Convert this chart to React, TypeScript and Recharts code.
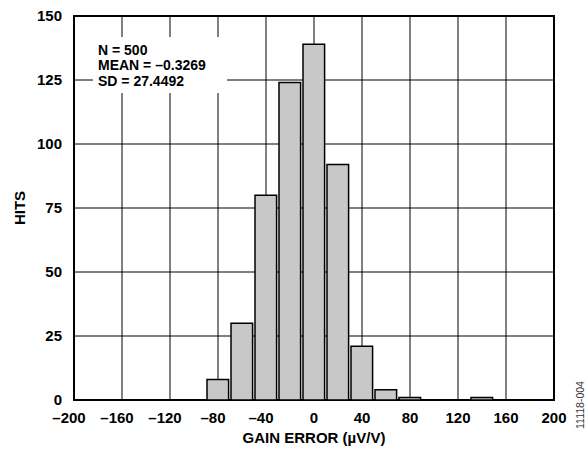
import React from 'react';
import {
  BarChart,
  Bar,
  XAxis,
  YAxis,
  CartesianGrid,
  ReferenceArea,
} from 'recharts';

// histogram bins (center of each 20 µV/V bin) and hit counts
const binCenters = [-80, -60, -40, -20, 0, 20, 40, 60, 80, 140];
const hits = [8, 30, 80, 124, 139, 92, 21, 4, 1, 1];

const xTicks = [-200, -160, -120, -80, -40, 0, 40, 80, 120, 160, 200];
const yTicks = [0, 25, 50, 75, 100, 125, 150];

const statLines = ['N = 500', 'MEAN = \u20130.3269', 'SD = 27.4492'];

const data = binCenters.map((x, i) => ({ x, hits: hits[i] }));

const FONT = '"Liberation Sans", Arial, Helvetica, sans-serif';
const W = 586;
const H = 451;
const MARGIN = { top: 16, right: 32, bottom: 0, left: 0 };
const Y_AXIS_W = 74;
const X_AXIS_H = 51;
const BIN_WIDTH = 20;

const plotW = W - MARGIN.left - MARGIN.right - Y_AXIS_W;
const barSize = (plotW * BIN_WIDTH) / (xTicks[xTicks.length - 1] - xTicks[0]);

const fmt = (v: number) => (v < 0 ? `\u2013${-v}` : `${v}`);

const XTick = (props: any) => {
  const { x, y, payload } = props;
  const v = payload.value as number;
  return (
    <text
      x={x + (v < 0 ? -5 : 0)}
      y={y}
      dy="0.71em"
      textAnchor="middle"
      fill="#000"
      fontSize={15}
      fontWeight="bold"
      fontFamily={FONT}
    >
      {fmt(v)}
    </text>
  );
};

const HitsLabel = (props: any) => {
  const vb = props.viewBox || { x: 0, y: 16, width: 74, height: 384 };
  const cx = vb.x + 19;
  const cy = vb.y + vb.height / 2;
  return (
    <text
      x={cx}
      y={cy}
      transform={`rotate(-90, ${cx}, ${cy})`}
      textAnchor="middle"
      dominantBaseline="central"
      fill="#000"
      fontSize={15}
      fontWeight="bold"
      fontFamily={FONT}
    >
      HITS
    </text>
  );
};

export default function App() {
  return (
    <div style={{ position: 'absolute', left: 0, top: 0, width: W, height: H, background: '#fff' }}>
      <BarChart width={W} height={H} data={data} margin={MARGIN} barGap={0}>
        <CartesianGrid stroke="#000" strokeWidth={1} horizontalValues={yTicks} verticalValues={xTicks} />
        <XAxis
          dataKey="x"
          type="number"
          domain={[-200, 200]}
          ticks={xTicks}
          interval={0}
          allowDataOverflow
          height={X_AXIS_H}
          tickLine={false}
          axisLine={false}
          tickSize={6}
          tickMargin={6}
          tick={<XTick />}
          label={{
            value: 'GAIN ERROR (\u00b5V/V)',
            position: 'insideBottom',
            offset: 8,
            fill: '#000',
            fontSize: 15,
            fontWeight: 'bold',
            fontFamily: FONT,
          }}
        />
        <YAxis
          type="number"
          domain={[0, 150]}
          ticks={yTicks}
          interval={0}
          width={Y_AXIS_W}
          tickLine={false}
          axisLine={false}
          tickSize={6}
          tickMargin={6}
          tick={{ fill: '#000', fontSize: 15, fontWeight: 'bold', fontFamily: FONT }}
          label={<HitsLabel />}
        />
        <Bar
          dataKey="hits"
          barSize={barSize}
          fill="#c8c8c8"
          stroke="#000"
          strokeWidth={1.5}
          isAnimationActive={false}
        />
        <ReferenceArea
          x1={-200}
          x2={200}
          y1={0}
          y2={150}
          fill="none"
          fillOpacity={0}
          stroke="#000"
          strokeWidth={2}
          ifOverflow="visible"
        />
      </BarChart>
      <svg
        width={W}
        height={H}
        style={{ position: 'absolute', left: 0, top: 0, pointerEvents: 'none' }}
      >
        <rect x={93} y={37} width={134} height={56} fill="#fff" />
        {statLines.map((s, i) => (
          <text
            key={s}
            x={98}
            y={54.5 + i * 15.7}
            fill="#000"
            fontSize={14}
            fontWeight="bold"
            fontFamily={FONT}
          >
            {s}
          </text>
        ))}
        <text
          x={580}
          y={405}
          transform="rotate(-90, 580, 405)"
          textAnchor="middle"
          dominantBaseline="central"
          fill="#333"
          fontSize={10.5}
          fontFamily={FONT}
        >
          11118-004
        </text>
      </svg>
    </div>
  );
}
